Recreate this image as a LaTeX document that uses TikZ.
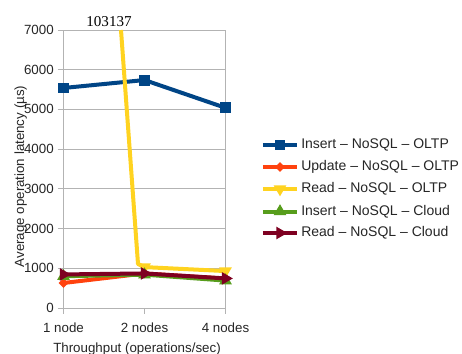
\documentclass[tikz,border=0pt]{standalone}
\usepackage{fontspec}
\setmainfont{Liberation Sans}
\newfontfamily\labelserif{Liberation Serif}
\usetikzlibrary{shapes.geometric,calc}
\definecolor{sblue}{HTML}{004586}
\definecolor{sorange}{HTML}{FF420E}
\definecolor{syellow}{HTML}{FFD320}
\definecolor{sgreen}{HTML}{579D1C}
\definecolor{sred}{HTML}{7E0021}
\definecolor{gridgray}{HTML}{B3B3B3}
\tikzset{
  gridline/.style={draw=gridgray, line width=0.75pt},
  series/.style={line width=3pt, line join=round, draw=#1},
  mksq/.style={rectangle, fill=#1, minimum size=8.2pt, inner sep=0pt},
  mkdia/.style={diamond, fill=#1, minimum size=7.5pt, inner sep=0pt},
  mktri/.style={regular polygon, regular polygon sides=3, fill=#1, minimum size=11pt, inner sep=0pt},
  ticklab/.style={font=\fontsize{10}{12}\selectfont, text=black!85, inner sep=0pt},
  legtext/.style={font=\fontsize{10.5}{12}\selectfont, text=black!85, anchor=west, inner sep=0pt},
  axtitle/.style={font=\fontsize{10}{12}\selectfont, text=black!85, inner sep=0pt},
}
\begin{document}
\begin{tikzpicture}[x=0.75pt,y=-0.75pt]
\useasboundingbox[fill=white] (0,0) rectangle (462,354);
% grid and axes
\foreach \v in {30,69.7,109.4,149.1,188.9,228.6,268.3,308}
  \draw[gridline] (58,\v) -- (225.5,\v);
\draw[gridline] (63.5,30) -- (63.5,314);
\draw[gridline] (225.5,30) -- (225.5,314);
\draw[gridline] (144.5,308) -- (144.5,314);
% y tick labels
\foreach \v/\t in {30/7000,69.7/6000,109.4/5000,149.1/4000,188.9/3000,228.6/2000,268.3/1000,308/0}
  \node[ticklab, anchor=east] (yl\t) at (54,\v) {\t};
% x tick labels
\node[ticklab, anchor=base] (xl1) at (63.5,332.5) {1 node};
\node[ticklab, anchor=base] (xl2) at (144.5,332.5) {2 nodes};
\node[ticklab, anchor=base] (xl4) at (225.5,332.5) {4 nodes};
% axis titles
\node[axtitle, anchor=base] (xtitle) at (137,352.5) {Throughput (operations/sec)};
\node[axtitle, anchor=base, rotate=90] (ytitle) at (24,176.5) {Average operation latency (µs)};
% data
\begin{scope}[shift={(0,308)}, y=0.0297857pt]
  \coordinate (b1) at (63.5,5540); \coordinate (b2) at (144.5,5740); \coordinate (b3) at (225.5,5040);
  \coordinate (o1) at (63.5,630);  \coordinate (o2) at (144.5,870);  \coordinate (o3) at (225.5,740);
  \coordinate (y2) at (144.5,1030); \coordinate (y3) at (225.5,930);
  \coordinate (g1) at (63.5,800);  \coordinate (g2) at (144.5,840);  \coordinate (g3) at (225.5,690);
  \coordinate (r1) at (63.5,845);  \coordinate (r2) at (144.5,870);  \coordinate (r3) at (225.5,745);
  \coordinate (ytop) at (121,7000); \coordinate (ybend) at (138,1110);
\end{scope}
\draw[series=sblue] (b1) -- (b2) -- (b3);
\foreach \p in {b1,b2,b3} \node[mksq=sblue] at (\p) {};
\draw[series=sorange] (o1) -- (o2) -- (o3);
\foreach \p in {o1,o2,o3} \node[mkdia=sorange] at (\p) {};
\draw[series=syellow] (ytop) -- (ybend) -- (y2) -- (y3);
\foreach \p in {y2,y3} \node[mktri=syellow, rotate=180] at (\p) {};
\draw[series=sgreen] (g1) -- (g2) -- (g3);
\foreach \p in {g1,g2,g3} \node[mktri=sgreen] at (\p) {};
\draw[series=sred] (r1) -- (r2) -- (r3);
\foreach \p in {r1,r2,r3} \node[mktri=sred, rotate=-90] at (\p) {};
\node[font=\labelserif\fontsize{11.3}{13}\selectfont, inner sep=0pt, anchor=base] (peak) at (109,26) {103137};
% legend
\coordinate (la1) at (263,145); \coordinate (lb1) at (297,145);
\coordinate (la2) at (263,167); \coordinate (lb2) at (297,167);
\coordinate (la3) at (263,189); \coordinate (lb3) at (297,189);
\coordinate (la4) at (263,211.5); \coordinate (lb4) at (297,211.5);
\coordinate (la5) at (263,233); \coordinate (lb5) at (297,233);
\draw[series=sblue] (la1) -- (lb1); \node[mksq=sblue] at ($(la1)!0.5!(lb1)$) {};
\draw[series=sorange] (la2) -- (lb2); \node[mkdia=sorange] at ($(la2)!0.5!(lb2)$) {};
\draw[series=syellow] (la3) -- (lb3); \node[mktri=syellow, rotate=180] at ($(la3)!0.5!(lb3)$) {};
\draw[series=sgreen] (la4) -- (lb4); \node[mktri=sgreen] at ($(la4)!0.5!(lb4)$) {};
\draw[series=sred] (la5) -- (lb5); \node[mktri=sred, rotate=-90] at ($(la5)!0.5!(lb5)$) {};
\node[legtext] (lt1) at (301,145) {Insert – NoSQL – OLTP};
\node[legtext] (lt2) at (301,167) {Update – NoSQL – OLTP};
\node[legtext] (lt3) at (301,189) {Read – NoSQL – OLTP};
\node[legtext] (lt4) at (301,211.5) {Insert – NoSQL – Cloud};
\node[legtext] (lt5) at (301,233) {Read – NoSQL – Cloud};
\end{tikzpicture}
\end{document}
